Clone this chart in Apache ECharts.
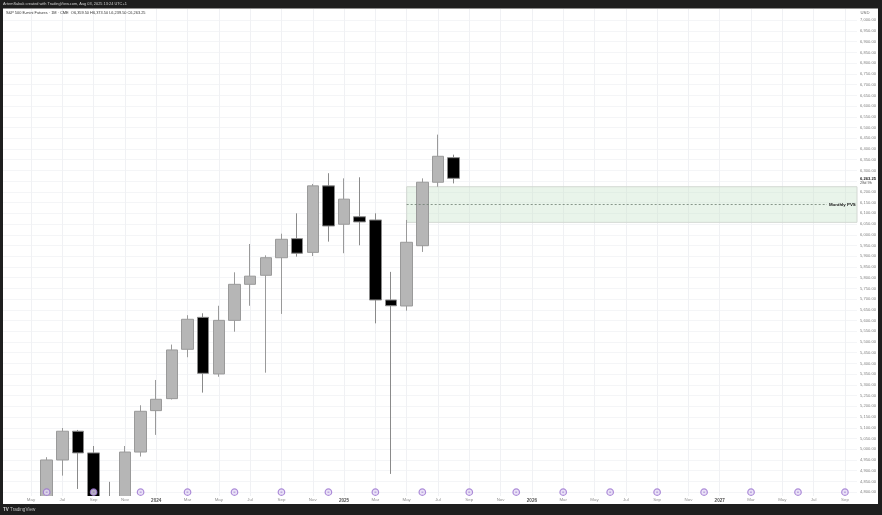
<!DOCTYPE html>
<html>
<head>
<meta charset="utf-8">
<style>html,body{margin:0;padding:0;background:#1e1e1e;}#c{width:882px;height:515px;}</style>
<script src="https://cdn.jsdelivr.net/npm/echarts@6/dist/echarts.min.js"></script>
</head>
<body>
<div id="c"></div>
<script>
// month index: 0 = May 2023
const monthIdx = [1,2,3,4,5,6,7,8,9,10,11,12,13,14,15,16,17,18,19,20,21,22,23,24,25,26,27];
const opens  = [4700,4950,5084,4983,4740,4700,4987,5180,5236,5466,5615,5351,5601,5769,5811,5893,5982,5918,6228,6049,6084,6069,5696,5668,5949,6245,6359.5];
const closes = [4950,5084,4983,4760,4700,4987,5177,5233,5463,5606,5354,5601,5769,5807,5893,5979,5914,6228,6041,6166,6060,5696,5669,5965,6245,6366,6263.25];
const lows   = [4680,4877,4815,4740,4680,4690,4966,5067,5232,5429,5264,5338,5548,5669,5357,5631,5898,5901,5968,5914,5951,5587,4885,5646,5920,6224,6239.5];
const highs  = [4963,5099,5090,5015,4848,5015,5205,5323,5488,5625,5634,5669,5825,5957,5904,6005,6100,6237,6287,6263,6268,6100,5827,6069,6263,6467,6373.5];

const xTickIdx = [0,2,4,6,8,10,12,14,16,18,20,22,24,26,28,30,32,34,36,38,40,42,44,46,48,50,52];
const xTickLabels = ['May','Jul','Sep','Nov','2024','Mar','May','Jul','Sep','Nov','2025','Mar','May','Jul','Sep','Nov','2026','Mar','May','Jul','Sep','Nov','2027','Mar','May','Jul','Sep'];
const yTicks = [4800,4850,4900,4950,5000,5050,5100,5150,5200,5250,5300,5350,5400,5450,5500,5550,5600,5650,5700,5750,5800,5850,5900,5950,6000,6050,6100,6150,6200,6250,6300,6350,6400,6450,6500,6550,6600,6650,6700,6750,6800,6850,6900,6950,7000];
const yHiddenLabels = [6250];
const eventIdx = [1,4,7,10,13,16,19,22,25,28,31,34,37,40,43,46,49,52];
const eventLevel = 4800;
const zoneLow = 6058, zoneHigh = 6224, zoneMid = 6142, zoneStart = 24;
const xMin = -1.789, xMax = 52.77, yMin = 4782, yMax = 7052.7;

const fontFam = '"Liberation Sans", Arial, sans-serif';
const candles = monthIdx.map((m,i)=>[m,opens[i],closes[i],lows[i],highs[i]]);
const fmt = v => v.toLocaleString('en-US',{minimumFractionDigits:2,maximumFractionDigits:2});

const chart = echarts.init(document.getElementById('c'), null, {renderer:'canvas'});
chart.setOption({
  animation:false,
  backgroundColor:'#1e1e1e',
  grid:{left:3,right:25,top:9,bottom:19,containLabel:false},
  xAxis:[{
    type:'value',min:xMin,max:xMax,
    axisLine:{show:false},
    axisTick:{show:false,customValues:xTickIdx},
    splitLine:{show:true,lineStyle:{color:'#f0f1f4',width:1}},
    axisLabel:{show:false}
  },{
    type:'value',min:xMin,max:xMax,position:'bottom',z:10,
    axisLine:{show:false},
    axisTick:{show:false,customValues:xTickIdx},
    splitLine:{show:false},
    axisLabel:{
      customValues:xTickIdx,margin:2,fontSize:4.4,color:'#909090',fontFamily:fontFam,
      hideOverlap:false,
      formatter:function(v){
        const s = xTickLabels[xTickIdx.indexOf(v)];
        return /^\d+$/.test(s) ? '{y|'+s+'}' : s;
      },
      rich:{y:{fontSize:4.6,fontWeight:'bold',color:'#555555',fontFamily:fontFam}}
    }
  }],
  yAxis:{
    type:'value',position:'right',min:yMin,max:yMax,scale:true,
    axisLine:{show:false},
    axisTick:{show:false,customValues:yTicks},
    splitLine:{show:true,lineStyle:{color:'#f4f5f7',width:1}},
    axisLabel:{
      customValues:yTicks.filter(v=>!yHiddenLabels.includes(v)),
      margin:3,fontSize:4.1,color:'#858585',fontFamily:fontFam,hideOverlap:false,
      formatter:fmt
    }
  },
  series:[
    {
      type:'candlestick',
      data:candles,
      encode:{x:0,y:[1,2,3,4]},
      barWidth:12,
      clip:true,
      z:3,
      itemStyle:{color:'#b6b6b6',color0:'#000000',borderColor:'#9a9a9a',borderColor0:'#8a8a8a',borderWidth:1}
    },
    {
      type:'line',
      data:[],
      z:4,
      silent:true,
      markArea:{
        silent:true,
        itemStyle:{color:'rgba(196,226,200,0.38)',borderColor:'#d3d8d3',borderWidth:1},
        data:[[{xAxis:zoneStart,yAxis:zoneHigh},{xAxis:xMax,yAxis:zoneLow}]]
      },
      markLine:{
        silent:true,symbol:'none',
        lineStyle:{color:'#6f7f72',type:[2,2],width:0.8},
        label:{show:true,position:'end',formatter:'Monthly PVS',fontSize:4.4,fontWeight:'bold',color:'#111',fontFamily:fontFam,distance:2},
        data:[[{xAxis:zoneStart,yAxis:zoneMid},{xAxis:50.85,yAxis:zoneMid}]]
      }
    },
    {
      type:'scatter',
      data:eventIdx.map(m=>[m,eventLevel]),
      symbol:'circle',symbolSize:6.5,z:6,silent:true,clip:false,
      itemStyle:{color:'#e6dcf5',borderColor:'#9a72cf',borderWidth:1.2},
      label:{show:true,position:'inside',formatter:'=',fontSize:4,color:'#7e57c2',fontFamily:fontFam}
    }
  ],
  graphic:[
    {type:'rect',z:-10,silent:true,shape:{x:3,y:8.5,width:875,height:495.5},style:{fill:'#ffffff'}},
    // white time-scale strip and dark footer cover candle bodies running off the bottom of the pane
    {type:'rect',z:5,silent:true,shape:{x:3,y:496,width:875,height:8},style:{fill:'#ffffff'}},
    {type:'rect',z:5,silent:true,shape:{x:0,y:504,width:882,height:11},style:{fill:'#1e1e1e'}},
    {type:'text',z:20,silent:true,x:3,y:4,style:{text:'ArtemSabak created with TradingView.com, Aug 03, 2025 13:24 UTC+1',fontSize:3.9,fill:'#cfcfcf',fontFamily:fontFam,verticalAlign:'middle'}},
    {type:'text',z:20,silent:true,x:6,y:13,style:{text:'S&P 500 E-mini Futures · 1M · CME  O6,359.50 H6,373.50 L6,239.50 C6,263.25',fontSize:3.9,fill:'#333333',fontFamily:fontFam,verticalAlign:'middle'}},
    {type:'text',z:20,silent:true,x:865,y:13.2,style:{text:'USD',fontSize:4.2,fill:'#666666',fontFamily:fontFam,align:'center',verticalAlign:'middle'}},
    {type:'text',z:20,silent:true,x:860,y:178.5,style:{text:'6,263.25',fontSize:4.1,fontWeight:'bold',fill:'#222222',fontFamily:fontFam,verticalAlign:'middle'}},
    {type:'text',z:20,silent:true,x:860,y:183.3,style:{text:'28d 9h',fontSize:3.9,fill:'#555555',fontFamily:fontFam,verticalAlign:'middle'}},
    {type:'text',z:20,silent:true,x:3,y:510,style:{text:'TV',fontSize:4.5,fontWeight:'bold',fill:'#d8d8d8',fontFamily:fontFam,verticalAlign:'middle'}},
    {type:'text',z:20,silent:true,x:10,y:510,style:{text:'TradingView',fontSize:4.6,fill:'#bdbdbd',fontFamily:fontFam,verticalAlign:'middle'}}
  ]
});
</script>
</body>
</html>
